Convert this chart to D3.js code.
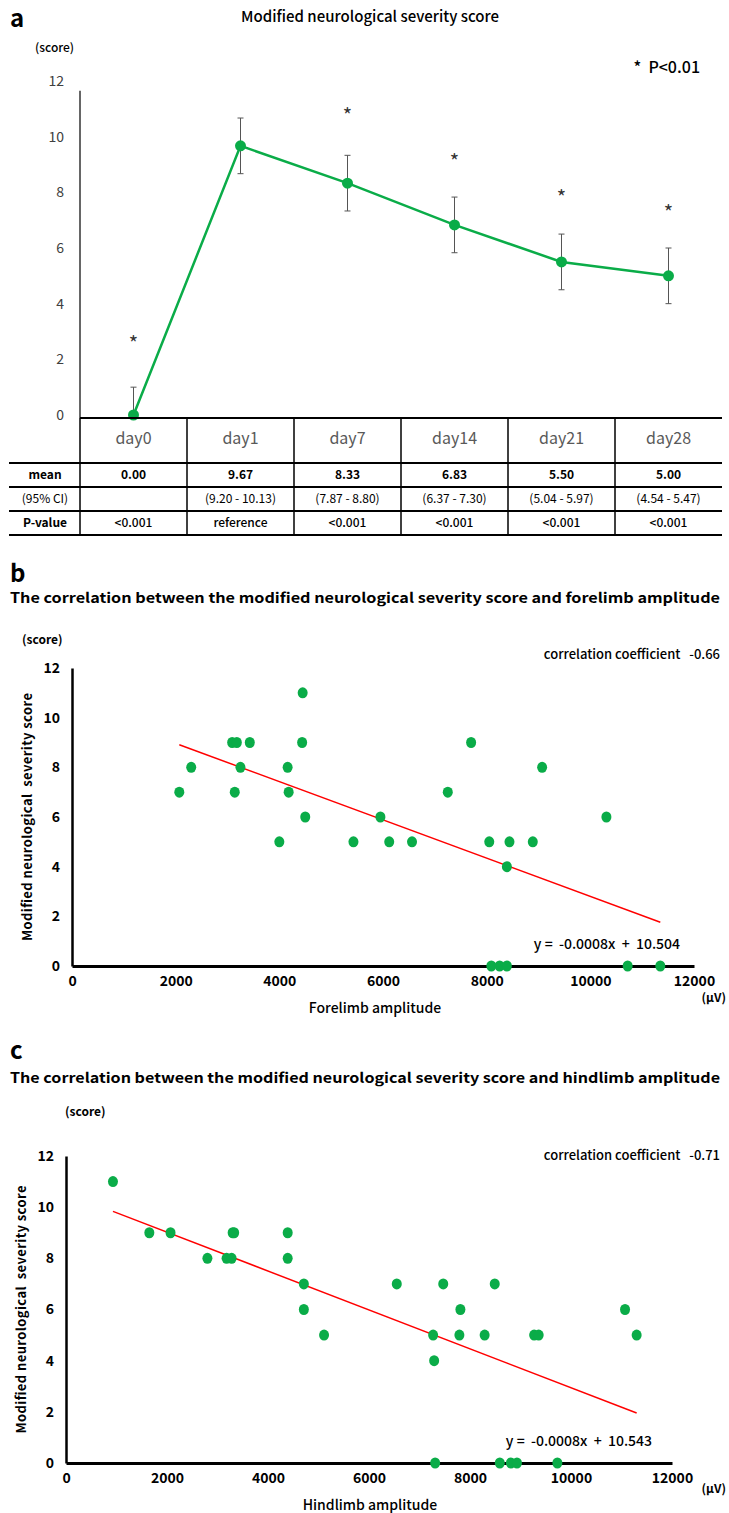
<!DOCTYPE html>
<html>
<head>
<meta charset="utf-8">
<script src="https://cdn.jsdelivr.net/npm/d3@7"></script>
<style>
  body { margin: 0; background: #fff; }
  text { font-family: "Noto Sans CJK JP", "Noto Sans", sans-serif; white-space: pre; }
</style>
</head>
<body>
<div id="chart"></div>
<script>
// ---- panel a data
var days = ["day0", "day1", "day7", "day14", "day21", "day28"]
var meanScore = [0, 9.67, 8.33, 6.83, 5.5, 5.0]
var errLow = [0, 8.67, 7.33, 5.83, 4.5, 4.0]
var errHigh = [1, 10.67, 9.33, 7.83, 6.5, 6.0]
var starAt = [2.7, null, 10.9, 9.25, 7.95, 7.4]
var meanLabels = ["0.00", "9.67", "8.33", "6.83", "5.50", "5.00"]
var ciLabels = ["", "(9.20 - 10.13)", "(7.87 - 8.80)", "(6.37 - 7.30)", "(5.04 - 5.97)", "(4.54 - 5.47)"]
var pLabels = ["<0.001", "reference", "<0.001", "<0.001", "<0.001", "<0.001"]
var rowLabels = ["mean", "(95% CI)", "P-value"]
var scoreTicks = [0, 2, 4, 6, 8, 10, 12]

// ---- panel b data (forelimb amplitude, score)
var foreAmp = [4450, 3090, 3180, 3430, 4440, 7700, 2300, 3250, 4160, 9070, 2070, 3140, 4180, 7250,
  4500, 5950, 10310, 4000, 5430, 6120, 6560, 8050, 8440, 8890, 8390, 8090, 8250, 8390, 10720, 11350]
var foreScore = [11, 9, 9, 9, 9, 9, 8, 8, 8, 8, 7, 7, 7, 7,
  6, 6, 6, 5, 5, 5, 5, 5, 5, 5, 4, 0, 0, 0, 0, 0]
var foreSlope = -0.00077, foreIntercept = 10.504

// ---- panel c data (hindlimb amplitude, score)
var hindAmp = [930, 1650, 2070, 3300, 3330, 4390, 2800, 3180, 3280, 4390, 4710, 6550, 7470, 8490,
  4710, 7810, 11070, 5110, 7270, 7790, 8290, 9270, 9360, 11300, 7290, 7310, 8590, 8810, 8930, 9730]
var hindScore = [11, 9, 9, 9, 9, 9, 8, 8, 8, 8, 7, 7, 7, 7,
  6, 6, 6, 5, 5, 5, 5, 5, 5, 5, 4, 0, 0, 0, 0, 0]
var hindSlope = -0.00076, hindIntercept = 10.543
var ampTicks = [0, 2000, 4000, 6000, 8000, 10000, 12000]

var green = "#0aac48"
var W = 729, H = 1513

var svg = d3.select("#chart").append("svg")
    .attr("width", W)
    .attr("height", H)

function label(x, y, str, size, weight, anchor, color) {
  return svg.append("text")
    .attr("x", x).attr("y", y)
    .attr("dy", "0.35em")
    .attr("font-size", size)
    .attr("font-weight", weight || 400)
    .attr("text-anchor", anchor || "start")
    .attr("fill", color || "#000")
    .text(str)
}

// ================= panel a
label(10, 19, "a", 24, 700)
label(370, 17, "Modified neurological severity score", 15, 500, "middle").attr("textLength", 258)
label(35, 48, "(score)", 12, 500)
label(700, 67, "*  P<0.01", 16, 500, "end")

var xA = d3.scaleBand().domain(days).range([80, 722])
var yA = d3.scaleLinear().domain([0, 12]).range([415, 81])

var gA = svg.append("g")
gA.append("line")
  .attr("x1", 80).attr("x2", 80)
  .attr("y1", yA(11.65)).attr("y2", 418)
  .attr("stroke", "#333").attr("stroke-width", 1.5)

var yAxisA = d3.axisLeft(yA).tickValues(scoreTicks).tickSize(0).tickPadding(16)
gA.append("g")
  .attr("transform", "translate(80,0)")
  .call(yAxisA)
  .call(function (g) { g.select(".domain").remove() })
  .selectAll("text")
  .attr("font-size", 14)
  .attr("fill", "#404040")
  .attr("font-family", "'Noto Sans CJK JP', sans-serif")

// error bars
days.forEach(function (d, i) {
  var cx = xA(d) + xA.bandwidth() / 2
  gA.append("line")
    .attr("x1", cx).attr("x2", cx)
    .attr("y1", yA(errLow[i])).attr("y2", yA(errHigh[i]))
    .attr("stroke", "#555").attr("stroke-width", 1)
  ;[errLow[i], errHigh[i]].forEach(function (v, k) {
    if (i === 0 && k === 0) return
    gA.append("line")
      .attr("x1", cx - 3).attr("x2", cx + 3)
      .attr("y1", yA(v)).attr("y2", yA(v))
      .attr("stroke", "#555").attr("stroke-width", 1)
  })
  if (starAt[i] !== null) {
    label(cx, yA(starAt[i]) + 4, "*", 20, 400, "middle", "#333")
  }
})

var lineA = d3.line()
  .x(function (d, i) { return xA(days[i]) + xA.bandwidth() / 2 })
  .y(function (d) { return yA(d) })

gA.append("path")
  .datum(meanScore)
  .attr("d", lineA)
  .attr("fill", "none")
  .attr("stroke", green)
  .attr("stroke-width", 2.5)

gA.selectAll(".pt")
  .data(meanScore)
  .enter().append("circle")
  .attr("cx", function (d, i) { return xA(days[i]) + xA.bandwidth() / 2 })
  .attr("cy", function (d) { return yA(d) })
  .attr("r", 5.5)
  .attr("fill", green)

// table
var rowLines = [418, 463, 487, 511, 535]
gA.append("line").attr("x1", 80).attr("x2", 722).attr("y1", 418).attr("y2", 418)
  .attr("stroke", "#000").attr("stroke-width", 2)
rowLines.slice(1).forEach(function (y) {
  gA.append("line").attr("x1", 9).attr("x2", 722).attr("y1", y).attr("y2", y)
    .attr("stroke", "#000").attr("stroke-width", 1.8)
})
d3.range(days.length).forEach(function (i) {
  var x0 = xA(days[i])
  gA.append("line").attr("x1", x0).attr("x2", x0).attr("y1", 418).attr("y2", 535)
    .attr("stroke", "#000").attr("stroke-width", 1.5)
})
days.forEach(function (d, i) {
  var cx = xA(d) + xA.bandwidth() / 2
  label(cx, 438, d, 16, 400, "middle", "#595959")
  label(cx, 475, meanLabels[i], 12, 600, "middle")
  label(cx, 499, ciLabels[i], 12, 400, "middle")
  label(cx, 523, pLabels[i], 12, 500, "middle")
})
rowLabels.forEach(function (r, i) {
  label(45, 475 + i * 24, r, 12, i === 1 ? 400 : 700, "middle")
})

// ================= scatter panels
function scatter(opt) {
  var x = d3.scaleLinear().domain([0, 12000]).range([opt.left, opt.right])
  var y = d3.scaleLinear().domain([0, 12]).range([opt.bottom, opt.top])
  var g = svg.append("g")

  label(10, opt.letterY, opt.letter, 24, 700)
  label(10, opt.titleY, opt.title, 14, 700).attr("textLength", 710).attr("lengthAdjust", "spacingAndGlyphs")
  label(opt.scoreX, opt.scoreY, "(score)", 12, 700)
  label(720, opt.corrY, opt.corr, 13, 500, "end")

  var yAxis = d3.axisLeft(y).tickValues(scoreTicks).tickSize(0).tickPadding(12)
  g.append("g")
    .attr("transform", "translate(" + opt.left + ",0)")
    .call(yAxis)
    .call(function (s) { s.select(".domain").attr("stroke", "#000").attr("stroke-width", 2.5) })
    .selectAll("text")
    .attr("font-size", 14).attr("font-weight", 700).attr("fill", "#000")
    .attr("font-family", "'Noto Sans CJK JP', sans-serif")

  var xAxis = d3.axisBottom(x).tickValues(ampTicks).tickFormat(d3.format("d")).tickSize(0).tickPadding(10)
  g.append("g")
    .attr("transform", "translate(0," + opt.bottom + ")")
    .call(xAxis)
    .call(function (s) { s.select(".domain").attr("stroke", "#000").attr("stroke-width", 3) })
    .selectAll("text")
    .attr("font-size", 14).attr("font-weight", 700).attr("fill", "#000")
    .attr("font-family", "'Noto Sans CJK JP', sans-serif")

  label(726, opt.bottom + opt.unitDy, "(\u03bcV)", 12, 700, "end")
  label(opt.xTitleX, opt.bottom + 42, opt.xTitle, 14, 500, "middle")

  svg.append("text")
    .attr("transform", "translate(" + opt.yTitleX + "," + ((opt.top + opt.bottom) / 2) + ") rotate(-90)")
    .attr("text-anchor", "middle")
    .attr("dy", "0.35em")
    .attr("font-size", 13)
    .attr("font-weight", 700)
    .attr("textLength", 248)
    .text("Modified neurological  severity score")

  var x0 = d3.min(opt.amp), x1 = d3.max(opt.amp)
  g.append("line")
    .attr("x1", x(x0)).attr("y1", y(opt.intercept + opt.slope * x0))
    .attr("x2", x(x1)).attr("y2", y(opt.intercept + opt.slope * x1))
    .attr("stroke", "#ff0000").attr("stroke-width", 1.5)

  g.selectAll(".dot")
    .data(opt.amp)
    .enter().append("ellipse")
    .attr("cx", function (d) { return x(d) })
    .attr("cy", function (d, i) { return y(opt.score[i]) })
    .attr("rx", 5).attr("ry", 5.5)
    .attr("fill", green)

  label(opt.eqX, opt.bottom - 22, opt.eq, 14, 500, "end")
}

scatter({
  letter: "b", letterY: 574, title: "The correlation between the modified neurological severity score and forelimb amplitude",
  titleY: 598, scoreX: 22, scoreY: 640, corr: "correlation coefficient   -0.66", corrY: 654,
  left: 72, right: 694, top: 668, bottom: 966, yTitleX: 27, unitDy: 32,
  xTitle: "Forelimb amplitude", xTitleX: 375,
  amp: foreAmp, score: foreScore, slope: foreSlope, intercept: foreIntercept,
  eq: "y =  -0.0008x  +  10.504", eqX: 680
})

scatter({
  letter: "c", letterY: 1051, title: "The correlation between the modified neurological severity score and hindlimb amplitude",
  titleY: 1078, scoreX: 65, scoreY: 1112, corr: "correlation coefficient   -0.71", corrY: 1155,
  left: 66, right: 672, top: 1156, bottom: 1463, yTitleX: 21, unitDy: 26,
  xTitle: "Hindlimb amplitude", xTitleX: 370,
  amp: hindAmp, score: hindScore, slope: hindSlope, intercept: hindIntercept,
  eq: "y =  -0.0008x  +  10.543", eqX: 652
})
</script>
</body>
</html>
